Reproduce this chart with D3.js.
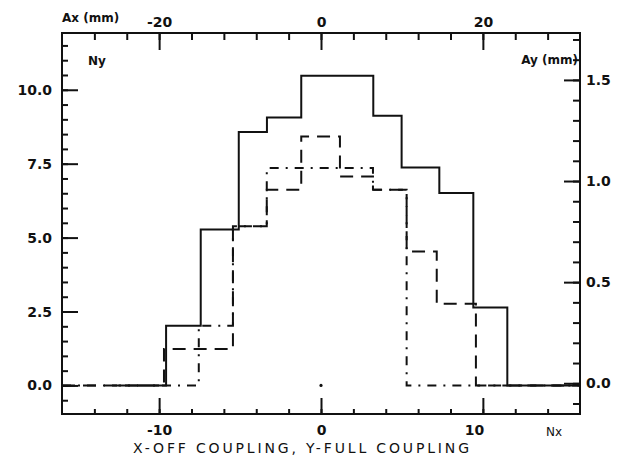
<!DOCTYPE html>
<html>
<head>
<meta charset="utf-8">
<script src="https://cdn.jsdelivr.net/npm/d3@7"></script>
<style>
  body { margin: 0; background: #fff; }
  svg { display: block; }
  .tick text { font-family: "DejaVu Sans", sans-serif; font-weight: bold; font-size: 14px; fill: #111; }
  .tick line { stroke: #111; stroke-width: 2; }
  .lbl { font-family: "DejaVu Sans", sans-serif; font-weight: bold; font-size: 12px; fill: #111; }
</style>
</head>
<body>
<svg id="chart" width="623" height="458"></svg>
<script>
// axis ticks
const nxTicks = [-10, 0, 10]
const axTicks = [-20, 0, 20]
const nyTicks = [0, 2.5, 5, 7.5, 10]
const ayTicks = [0, 0.5, 1.0, 1.5]

// solid histogram: bin edges (Nx) and heights (Ny)
const solidStart = -12.5
const solidEdges = [-9.57, -7.43, -5.08, -3.34, -1.22, 3.23, 4.98, 7.31, 9.41, 11.51]
const solidValues = [2.02, 5.27, 8.57, 9.06, 10.47, 9.12, 7.37, 6.51, 2.64]

// dashed histogram
const dashedEdges = [-9.70, -5.44, -3.35, -1.22, 1.17, 3.21, 5.29, 7.15, 9.57]
const dashedValues = [1.23, 5.38, 6.62, 8.42, 7.07, 6.62, 4.53, 2.76]

// dash-dot histogram
const dotDashEdges = [-7.55, -5.44, -3.35, 3.21, 5.29]
const dotDashValues = [2.02, 5.38, 7.35, 6.62]

const plotLeft = 62, plotRight = 580, plotTop = 33, plotBottom = 414

const svg = d3.select("#chart")

const x = d3.scaleLinear().domain([-16, 16]).range([plotLeft, plotRight])
const xTop = d3.scaleLinear().domain([-32, 32]).range([plotLeft, plotRight])
const y = d3.scaleLinear().domain([-1, 11.92]).range([plotBottom + 1, plotTop])
const yRight = d3.scaleLinear().domain([-0.157, 1.732]).range([plotBottom + 1, plotTop])

const fmt1 = d3.format(".1f")

const addAxis = (axis, tx, ty) => {
  const g = svg.append("g").attr("transform", `translate(${tx},${ty})`).call(axis)
  g.select(".domain").remove()
  return g
}

// minor ticks
addAxis(d3.axisLeft(y).tickValues(d3.range(-0.5, 11.9, 0.5)).tickSize(-6).tickFormat(""), plotLeft, 0)
addAxis(d3.axisRight(yRight).tickValues(d3.range(-0.1, 1.75, 0.1)).tickSize(-7).tickFormat(""), plotRight, 0)
addAxis(d3.axisTop(xTop).tickValues(d3.range(-28, 32, 4)).tickSize(-7).tickFormat(""), 0, plotTop)
addAxis(d3.axisBottom(x).tickValues(d3.range(-14, 16, 2)).tickSize(-5).tickFormat(""), 0, plotBottom)

// major ticks with labels
addAxis(d3.axisLeft(y).tickValues(nyTicks).tickSize(-16).tickPadding(10).tickFormat(fmt1), plotLeft, 0)
addAxis(d3.axisRight(yRight).tickValues(ayTicks).tickSize(-16).tickPadding(6).tickFormat(fmt1), plotRight, 0)
addAxis(d3.axisTop(xTop).tickValues(axTicks).tickSize(-17).tickPadding(6).tickFormat(d3.format("d")), 0, plotTop)
const bottomAxis = addAxis(d3.axisBottom(x).tickValues(nxTicks).tickSize(-16).tickPadding(11).tickFormat(d3.format("d")), 0, plotBottom)

svg.selectAll(".tick text").text(function() { return this.textContent.replace("−", "-") })
// the plotter set "10" a little left of its tick
bottomAxis.selectAll(".tick text").filter(d => d === 10).attr("dx", -9)

// frame
svg.append("rect")
  .attr("x", plotLeft).attr("y", plotTop)
  .attr("width", plotRight - plotLeft).attr("height", plotBottom - plotTop)
  .attr("fill", "none").attr("stroke", "#111").attr("stroke-width", 2)

const line = d3.line().x(d => x(d[0])).y(d => y(d[1])).curve(d3.curveStepAfter)

const stepPoints = (start, edges, values) => {
  let pts = [[start, 0]]
  edges.forEach((e, i) => pts.push([e, i < values.length ? values[i] : 0]))
  pts.push([16, 0])
  return pts
}

const series = [
  { start: -16, edges: dotDashEdges, values: dotDashValues, dash: "9,7,2,7" },
  { start: -16, edges: dashedEdges, values: dashedValues, dash: "13,8" },
  { start: solidStart, edges: solidEdges, values: solidValues, dash: null }
]

svg.selectAll("path.hist")
  .data(series)
  .enter()
  .append("path")
    .classed("hist", true)
    .attr("d", d => line(stepPoints(d.start, d.edges, d.values)))
    .attr("fill", "none")
    .attr("stroke", "#111")
    .attr("stroke-width", 2)
    .attr("stroke-dasharray", d => d.dash)

// origin dot
svg.append("circle").attr("cx", x(0)).attr("cy", y(0)).attr("r", 1.6).attr("fill", "#111")

// labels
svg.append("text").classed("lbl", true).attr("x", 62).attr("y", 22).text("Ax (mm)")
svg.append("text").classed("lbl", true).attr("x", 88).attr("y", 65).text("Ny")
svg.append("text").classed("lbl", true).attr("x", 578).attr("y", 64).attr("text-anchor", "end").text("Ay (mm)")
svg.append("text").classed("lbl", true).attr("x", 546).attr("y", 436).style("font-weight", "normal").text("Nx")
svg.append("text")
  .attr("x", 133).attr("y", 453)
  .attr("textLength", 336).attr("lengthAdjust", "spacing")
  .style("font-family", "DejaVu Sans, sans-serif").style("font-size", "14px").style("fill", "#111")
  .text("X-OFF COUPLING, Y-FULL COUPLING")
</script>
</body>
</html>
